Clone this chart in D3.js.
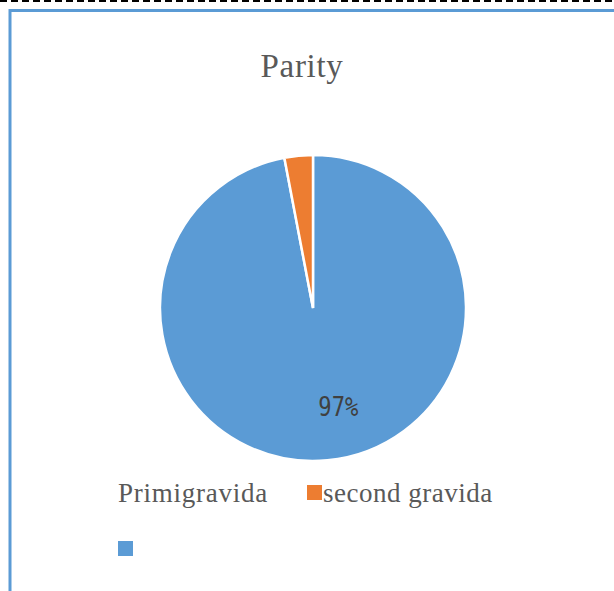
<!DOCTYPE html>
<html>
<head>
<meta charset="utf-8">
<script src="https://cdn.jsdelivr.net/npm/d3@7"></script>
<style>
  body { margin: 0; background: #fff; }
  svg { display: block; }
</style>
</head>
<body>
<div id="chart"></div>
<script>
// data
let categories = ["Primigravida", "second gravida"];
let values = [97, 3];
let colors = ["#5b9bd5", "#ed7d31"];
// legend as it appears (first entry lost its swatch, last swatch lost its label)
let legendLabels = ["Primigravida", "second gravida", ""];
let legendSwatch = [null, "#ed7d31", "#5b9bd5"];
let title = "Parity";

let width = 614;
let height = 591;
let radius = 153;
let cx = 313, cy = 308;
let textColor = "#595959";

let svg = d3.select("#chart")
    .append("svg")
    .attr("width", width)
    .attr("height", height);

// dashed line at very top
svg.append("line")
    .attr("x1", 0).attr("x2", width)
    .attr("y1", 1).attr("y2", 1)
    .style("stroke", "#000")
    .style("stroke-width", 2)
    .style("stroke-dasharray", "7,4");

// chart frame (only left and top visible)
svg.append("path")
    .attr("d", `M10,${height} L10,10.5 L${width},10.5`)
    .style("fill", "none")
    .style("stroke", "#5b9bd5")
    .style("stroke-width", 3);

svg.append("text")
    .attr("x", 302)
    .attr("y", 77)
    .attr("text-anchor", "middle")
    .style("font-family", "'Liberation Serif', 'Times New Roman', serif")
    .style("font-size", "33px")
    .style("letter-spacing", "0.7px")
    .style("fill", textColor)
    .text(title);

let pieData = categories.map((c, i) => ({ name: c, value: values[i], color: colors[i] }));

let pie = d3.pie()
    .value(d => d.value)
    .sort(null);

let arc = d3.arc()
    .innerRadius(0)
    .outerRadius(radius);

let labelArc = d3.arc()
    .innerRadius(radius * 0.65)
    .outerRadius(radius * 0.65);

let g = svg.append("g")
    .attr("transform", `translate(${cx},${cy})`);

let slices = pie(pieData);

g.selectAll("path")
    .data(slices)
    .enter()
    .append("path")
    .attr("d", arc)
    .attr("fill", d => d.data.color)
    .style("stroke", "white")
    .style("stroke-width", 2.5);

// only the big slice carries a label
g.selectAll(".lbl")
    .data(slices.filter(d => d.data.value > 50))
    .enter()
    .append("text")
    .attr("class", "lbl")
    .attr("transform", d => `translate(${labelArc.centroid(d)})`)
    .attr("dx", -4)
    .attr("dy", 9)
    .attr("textLength", 40)
    .attr("lengthAdjust", "spacingAndGlyphs")
    .style("font-family", "'DejaVu Sans Mono', monospace")
    .style("font-size", "26px")
    .style("fill", "#404040")
    .text(d => Math.round(d.data.value / d3.sum(values) * 100) + "%");

// legend
let legendPos = [[118, 485], [307, 485], [118, 541]];
let keys = svg.selectAll(".key")
    .data(legendLabels)
    .enter()
    .append("g")
    .attr("class", "key")
    .attr("transform", (d, i) => `translate(${legendPos[i][0]},${legendPos[i][1]})`);

keys.filter((d, i) => legendSwatch[i])
    .append("rect")
    .attr("width", 15)
    .attr("height", 15)
    .attr("fill", d => legendSwatch[legendLabels.indexOf(d)]);

keys.append("text")
    .attr("x", (d, i) => legendSwatch[i] ? 16 : 0)
    .attr("y", 17)
    .style("font-family", "'Liberation Serif', 'Times New Roman', serif")
    .style("font-size", "27px")
    .style("letter-spacing", (d, i) => i === 0 ? "0.75px" : "0.5px")
    .style("fill", textColor)
    .text(d => d);
</script>
</body>
</html>
